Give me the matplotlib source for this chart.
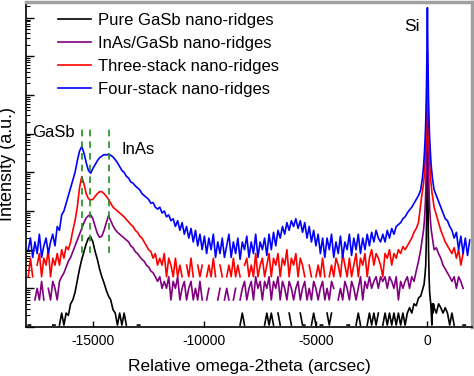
import numpy as np
import matplotlib
matplotlib.use("Agg")
import matplotlib.pyplot as plt
from matplotlib.ticker import LogLocator, NullFormatter, FixedLocator

plt.rcParams['font.family'] = ['Liberation Sans', 'DejaVu Sans']
plt.rcParams['axes.unicode_minus'] = False

N = float('nan')

# x sample positions (arcsec)
x_left = np.arange(-17900, -300, 100)
x_mid = np.arange(-300, 325, 25)
x_right = np.arange(400, 2000, 100)
x = np.concatenate([x_left, x_mid, x_right])

# log10 intensities
blue_log = [
    2.0, 2.3, 1.8, 2.2, 1.9, 2.4, 1.8, 2.1, 2.3, 1.9,
    2.2, 2.4, 2.1, 2.6, 2.5, 2.9, 3.0, 3.2, 3.4, 3.6,
    3.8, 4.0, 4.3, 4.55, 4.67, 4.5, 4.25, 4.05, 3.98, 4.1,
    4.2, 4.3, 4.38, 4.42, 4.46, 4.45, 4.47, 4.44, 4.4, 4.33,
    4.25, 4.15, 4.05, 4.0, 3.9, 3.85, 3.75, 3.72, 3.65, 3.6,
    3.55, 3.45, 3.4, 3.35, 3.3, 3.2, 3.22, 3.1, 3.05, 3.1,
    2.95, 3.0, 2.85, 2.9, 2.75, 2.8, 2.6, 2.75, 2.5, 2.7,
    2.4, 2.6, 2.3, 2.55, 2.2, 2.5, 2.1, 2.4, 2.0, 2.35,
    1.9, 2.3, 2.0, 2.4, 1.8, 2.2, 1.9, 2.3, 1.8, 2.1,
    2.4, 1.8, 2.2, 1.9, 2.3, 1.75, 2.2, 2.0, 2.35, 1.8,
    2.2, 1.9, 2.4, 1.8, 2.2, 2.0, 2.3, 1.85, 2.4, 2.0,
    2.45, 2.1, 2.5, 2.3, 2.6, 2.4, 2.7, 2.5, 2.75, 2.6,
    2.8, 2.55, 2.75, 2.45, 2.7, 2.3, 2.6, 2.2, 2.5, 2.1,
    2.4, 1.9, 2.3, 1.8, 2.3, 2.0, 2.4, 1.8, 2.2, 1.9,
    2.35, 1.8, 2.2, 2.0, 2.4, 1.85, 2.3, 2.0, 2.4, 1.9,
    2.3, 2.0, 2.4, 2.1, 2.45, 2.2, 2.5, 2.3, 2.2, 2.4,
    2.2, 2.5, 2.3, 2.55, 2.4, 2.6, 2.65, 2.7, 2.8, 2.85,
    2.95, 3.03, 3.1, 3.2, 3.3, 3.4,
    3.55, 3.65, 3.75, 3.85, 4.0, 4.15, 4.35, 4.6, 4.9, 5.3, 5.9, 6.9, 8.26,
    6.9, 5.9, 5.3, 4.9, 4.6, 4.35, 4.15, 4.0, 3.85, 3.75, 3.65, 3.55,
    3.4, 3.25, 3.1, 2.95, 2.8, 2.75, 2.6, 2.5, 2.3, 2.45, 2.0, 2.35, 1.9, 2.3, 1.85, 2.25,
]

red_log = [
    1.3, 1.78, 1.3, N, 1.6, 1.9, 1.3, 1.78, 1.6, 2.0,
    1.3, 1.78, 1.6, 1.9, 1.6, 2.0, 1.78, 2.08, 2.0, 2.2,
    2.5, 2.75, 3.1, 3.6, 3.89, 3.7, 3.45, 3.32, 3.29, 3.3,
    3.38, 3.45, 3.5, 3.5, 3.45, 3.38, 3.3, 3.2, 3.1, 3.05,
    3.0, 2.95, 2.9, 2.85, 2.78, 2.72, 2.65, 2.6, 2.5, 2.45,
    2.35, 2.3, 2.2, 2.1, 2.0, 1.95, 1.78, 1.9, 1.6, 1.78,
    1.6, 1.9, 1.3, 1.78, 1.6, 1.3, 1.78, 1.3, 1.6, 1.3,
    N, 1.6, 1.3, 1.78, 1.3, N, 1.6, 1.3, 1.6, N,
    1.3, 1.6, 1.3, 1.78, 1.3, N, 1.6, 1.3, N, 1.3,
    1.6, 1.3, 1.78, 1.3, 1.6, 1.3, N, 1.6, 1.78, 1.3,
    1.6, 1.3, 1.9, 1.3, 1.6, 1.78, 1.3, 1.6, 1.9, 1.3,
    1.78, 1.6, 1.9, 1.3, 1.78, 1.6, 2.0, 1.3, 1.78, 1.6,
    1.9, 1.3, 1.78, 1.6, 1.3, N, 1.6, 1.3, N, 1.3,
    1.6, 1.3, 1.78, 1.3, N, 1.3, 1.6, 1.3, 1.78, 1.6,
    1.3, 1.9, 1.6, 1.3, 1.78, 1.3, 1.6, 1.9, 1.3, 1.78,
    1.6, 1.9, 1.3, 1.78, 2.0, 1.6, 1.9, 1.78, 1.6, 1.3,
    1.9, 1.78, 2.0, 1.6, 1.9, 1.78, 2.0, 1.9, 2.08, 2.0,
    2.1, 2.2, 2.3, 2.45, 2.55, 2.7,
    3.2, 3.3, 3.4, 3.5, 3.6, 3.7, 3.85, 4.05, 4.3, 4.7, 5.3, 6.2, 7.1,
    6.2, 5.3, 4.7, 4.3, 4.0, 3.8, 3.65, 3.5, 3.4, 3.3, 3.2, 3.1,
    2.9, 2.7, 2.5, 2.35, 2.2, 2.1, 2.0, 1.9, 2.05, 1.78, 2.0, 1.6, 1.9, N, N, N,
]

purple_log = [
    N, N, N, 0.7, 1.0, 0.7, 1.18, 0.7, N, 1.0,
    0.7, 1.18, 1.0, 0.7, 1.18, 1.3, 1.4, 1.55, 1.7, 1.8,
    1.95, 2.1, 2.25, 2.4, 2.55, 2.7, 2.82, 2.88, 2.9, 2.8,
    2.6, 2.42, 2.32, 2.35, 2.5, 2.7, 2.88, 2.75, 2.62, 2.52,
    2.45, 2.4, 2.35, 2.3, 2.25, 2.2, 2.1, 2.05, 1.95, 1.9,
    1.82, 1.75, 1.7, 1.6, 1.55, 1.45, 1.4, 1.3, 1.18, 1.3,
    1.0, 1.18, 1.0, 1.3, 0.7, 1.18, 1.0, 1.3, 0.7, 1.0,
    1.18, 0.7, 1.0, 1.18, 0.7, 1.0, 0.7, 1.18, 0.7, N,
    0.7, 1.0, N, 0.7, N, 0.7, 1.0, N, 0.7, 1.0,
    0.7, N, 0.7, 1.0, N, 0.7, 1.0, 1.18, 0.7, 1.0,
    1.18, 0.7, 1.3, 1.0, 1.18, 0.7, 1.18, 1.0, 1.3, 0.7,
    1.18, 1.0, 1.3, 0.7, 1.18, 1.0, 0.7, 1.18, 1.0, 0.7,
    1.0, 1.18, 0.7, 1.0, 1.18, 0.7, 1.0, 0.7, 1.18, 1.0,
    0.7, 1.0, 1.18, 0.7, 1.0, 0.7, 1.18, 1.0, N, 0.7,
    1.0, 0.7, 1.18, 1.0, 0.7, 1.18, 1.0, 0.7, 1.0, 1.3,
    0.7, 1.18, 1.0, 1.3, 1.0, 1.18, 1.3, 1.0, 1.3, 1.18,
    1.3, 1.0, 1.3, 1.18, 1.0, 1.3, 0.7, 1.18, 1.0, 1.18,
    1.3, 1.0, 1.3, 1.18, 1.45, 1.7,
    2.0, 2.1, 2.2, 2.3, 2.4, 2.5, 2.65, 2.85, 3.1, 3.5, 4.2, 5.3, 6.5,
    5.3, 4.2, 3.5, 3.1, 2.85, 2.65, 2.5, 2.4, 2.3, 2.2, 2.1, 2.0,
    2.05, 1.9, 1.78, 1.6, 1.5, 1.4, 1.3, 1.18, 1.3, 1.0, 1.3, 1.18, 1.0, N, N, N,
]

black_log = [
    0.05, 0.05, N, 0.05, N, N, 0.05, N, N, N,
    N, 0.05, 0.05, N, 0.05, 0.36, 0.05, 0.36, 0.3, 0.6,
    0.7, 0.9, 1.2, 1.5, 1.75, 1.95, 2.15, 2.3, 2.33, 2.2,
    1.95, 1.75, 1.5, 1.3, 1.14, 0.95, 0.8, 0.7, 0.45, 0.36,
    0.05, 0.36, 0.05, 0.36, 0.05, N, 0.05, N, N, 0.05,
    0.05, N, N, N, 0.05, N, N, N, N, N,
    0.05, N, N, N, N, 0.05, N, N, N, N,
    N, 0.05, N, N, N, N, N, 0.05, N, N,
    N, N, 0.05, N, N, N, 0.05, N, N, N,
    N, N, N, N, N, 0.05, 0.36, 0.05, N, N,
    N, N, N, N, N, N, 0.05, 0.36, 0.05, 0.36,
    0.05, N, 0.36, 0.05, N, 0.05, N, 0.36, 0.05, N,
    0.05, N, 0.36, 0.05, 0.05, N, N, 0.05, 0.36, 0.05,
    N, 0.05, 0.05, N, 0.36, 0.05, 0.36, N, N, N,
    0.05, N, N, 0.05, 0.05, N, N, 0.05, 0.36, 0.05,
    N, N, 0.05, 0.36, 0.05, 0.36, 0.05, 0.36, N, 0.05,
    0.36, 0.05, 0.36, 0.05, 0.36, 0.05, 0.36, 0.05, 0.36, 0.05,
    0.36, 0.5, 0.36, 0.6, 0.55, 0.75,
    0.8, 0.85, 0.9, 0.95, 1.0, 1.05, 1.1, 1.25, 1.4, 1.6, 2.2, 3.5, 5.5,
    3.5, 2.0, 1.3, 0.9, 0.75, 0.6, 0.36, 0.05, 0.6, 0.36, 0.6, 0.5,
    0.36, 0.6, 0.5, 0.36, 0.5, 0.36, 0.05, 0.36, 0.05, N, 0.05, N, 0.05, 0.05, N, N,
]

labels = ["Pure GaSb nano-ridges", "InAs/GaSb nano-ridges",
          "Three-stack nano-ridges", "Four-stack nano-ridges"]
colors = ["#000000", "#800080", "#ff0000", "#0000ff"]
series = [black_log, purple_log, red_log, blue_log]

peak_positions = [-15510, -15130, -14290]
peak_range_log = [1.92, 5.16]

fig = plt.figure(figsize=(4.74, 3.76), dpi=100)
ax = fig.add_axes([26/474, 1 - 327/376, 446/474, 325.5/376])

for s, c, lab in zip(series, colors, labels):
    arr = np.array(s, dtype=float)
    assert len(arr) == len(x), (lab, len(arr), len(x))
    ax.plot(x, 10 ** arr, color=c, lw=1.2, label=lab)

ax.vlines(peak_positions, 10 ** peak_range_log[0], 10 ** peak_range_log[1],
          colors="#1f8f1f", linestyles=(0, (4, 3)), lw=1.2)

ax.set_yscale('log')
ax.set_xlim(-18000, 2000)
ax.set_ylim(1, 10 ** 8.42)
ax.xaxis.set_major_locator(FixedLocator([-15000, -10000, -5000, 0]))
ax.yaxis.set_major_locator(LogLocator(base=10, numticks=20))
ax.yaxis.set_minor_locator(LogLocator(base=10, subs=np.arange(2, 10), numticks=20))
ax.yaxis.set_major_formatter(NullFormatter())
ax.yaxis.set_minor_formatter(NullFormatter())
ax.tick_params(axis='y', which='major', direction='in', length=6, width=1)
ax.tick_params(axis='y', which='minor', direction='in', length=3, width=0.8)
ax.tick_params(axis='x', which='major', direction='in', length=4, width=1,
               labelsize=10, pad=5)

for sp in ['left', 'bottom']:
    ax.spines[sp].set_linewidth(1.2)
for sp in ['top', 'right']:
    ax.spines[sp].set_color('#a0a0a0')
    ax.spines[sp].set_linewidth(2.5)

ax.set_xlabel("Relative omega-2theta (arcsec)", fontsize=12.5, labelpad=8)
ax.set_ylabel("Intensity (a.u.)", fontsize=13, labelpad=4)

ax.text(-16790, 10 ** 5.03, "GaSb", fontsize=12, ha='center', va='center')
ax.text(-12990, 10 ** 4.59, "InAs", fontsize=12, ha='center', va='center')
ax.text(-714, 10 ** 7.77, "Si", fontsize=12.5, ha='center', va='center')

ax.legend(loc='upper left', bbox_to_anchor=(0.0717, 0.965), frameon=False,
          fontsize=12, handlelength=2.0, handletextpad=0.4,
          labelspacing=0.48, borderaxespad=0, borderpad=0)

fig.savefig("out.png", dpi=100)
